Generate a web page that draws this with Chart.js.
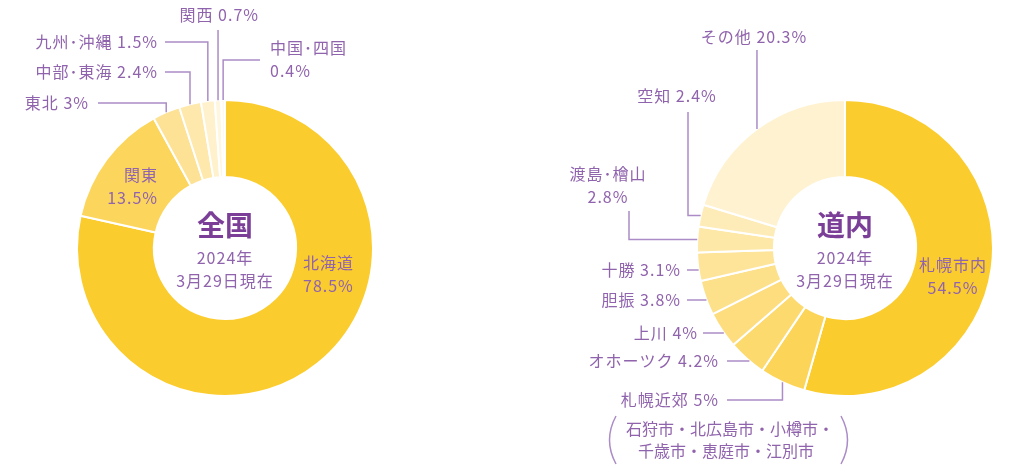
<!DOCTYPE html>
<html lang="ja">
<head>
<meta charset="utf-8">
<script src="https://cdn.jsdelivr.net/npm/chart.js@4.4.1/dist/chart.umd.min.js"></script>
<style>
  html, body { margin: 0; padding: 0; background: #fff; }
  #wrap { position: relative; width: 1024px; height: 473px; }
  canvas { position: absolute; top: 0; }
  #nationalChart { left: 0; }
  #hokkaidoChart { left: 512px; }
</style>
</head>
<body>
<div id="wrap">
  <canvas id="nationalChart" width="512" height="473"></canvas>
  <canvas id="hokkaidoChart" width="512" height="473"></canvas>
</div>
<script>
// 全国 (share of total, %)
const nationalRegions = ['北海道', '関東', '東北', '中部･東海', '九州･沖縄', '関西', '中国･四国'];
const nationalShares = [78.5, 13.5, 3, 2.4, 1.5, 0.7, 0.4];

// 道内 (share of total, %)
const hokkaidoRegions = ['札幌市内', '札幌近郊', 'オホーツク', '上川', '胆振', '十勝', '渡島･檜山', '空知', 'その他'];
const hokkaidoShares = [54.5, 5, 4.2, 4, 3.8, 3.1, 2.8, 2.4, 20.3];

const centerTitles = ['全国', '道内'];
const asOfLines = ['2024年', '3月29日現在'];
const suburbNote = ['石狩市・北広島市・小樽市・', '千歳市・恵庭市・江別市'];

const nationalColors = ['#fbcc2e', '#fcd65c', '#fde296', '#fee8ac', '#fef1cc', '#fff6e0', '#fffaee'];
const hokkaidoColors = ['#fbcc2e', '#fcd558', '#fdda6e', '#fddd7e', '#fde08a', '#fee498', '#fee8a8', '#feecb8', '#fff2d0'];

const FONT = "'Noto Sans CJK JP', 'Noto Sans', sans-serif";
const TEXT = '#9063ad';
const TITLE = '#7b3f98';
const LINE = '#ab8cc6';

const pct = v => v + '%';

// labels + leader lines, drawn from the arcs the library lays out
const calloutPlugin = {
  id: 'callouts',
  afterDatasetsDraw(chart, args, opts) {
    const ctx = chart.ctx;
    const meta = chart.getDatasetMeta(0);
    const names = chart.data.labels;
    const vals = chart.data.datasets[0].data;
    const cx = meta.data[0].x, cy = meta.data[0].y, r = meta.data[0].outerRadius;

    ctx.save();
    ctx.textBaseline = 'middle';

    opts.items.forEach(it => {
      const arc = meta.data[it.i];
      const mid = (arc.startAngle + arc.endAngle) / 2;
      const ax = cx + Math.cos(mid) * r;
      const ay = cy + Math.sin(mid) * r;

      if (it.lead) {
        const L = it.lead;
        const sx = L.x == null ? ax : L.x;
        const sy = L.y;
        ctx.strokeStyle = LINE;
        ctx.lineWidth = 1.5;
        ctx.beginPath();
        ctx.moveTo(sx, sy);
        if (L.mode === 'v') {
          ctx.lineTo(ax, sy);
          ctx.lineTo(ax, ay);
        } else if (L.mode === 'h') {
          ctx.lineTo(sx, ay);
          ctx.lineTo(ax, ay);
        } else {
          // straight across to the outer edge at this height
          const ex = cx - Math.sqrt(r * r - (sy - cy) * (sy - cy));
          ctx.lineTo(ex, sy);
        }
        ctx.stroke();
      }

      const lines = it.split ? [names[it.i], pct(vals[it.i])] : [names[it.i] + ' ' + pct(vals[it.i])];
      ctx.fillStyle = TEXT;
      ctx.font = '16px ' + FONT;
      ctx.letterSpacing = '1px';
      ctx.textAlign = it.align;
      lines.forEach((t, k) => ctx.fillText(t, it.x, it.y + k * 23));
    });

    // centre text
    ctx.textAlign = 'center';
    ctx.fillStyle = TITLE;
    ctx.letterSpacing = '0px';
    ctx.font = 'bold 28px ' + FONT;
    ctx.fillText(opts.title, cx, cy - 23);
    ctx.fillStyle = TEXT;
    ctx.font = '16px ' + FONT;
    ctx.letterSpacing = '1px';
    ctx.fillText(asOfLines[0], cx, cy + 10);
    ctx.fillText(asOfLines[1], cx, cy + 33);

    if (opts.note) {
      const n = opts.note;
      ctx.letterSpacing = '0px';
      ctx.fillText(suburbNote[0], n.x, n.y);
      ctx.fillText(suburbNote[1], n.x - 4, n.y + 22);
      ctx.strokeStyle = LINE;
      ctx.lineWidth = 1.5;
      ctx.beginPath();
      ctx.moveTo(n.left + 6, n.y - 13);
      ctx.quadraticCurveTo(n.left - 7, n.y + 11, n.left + 6, n.y + 35);
      ctx.moveTo(n.right - 6, n.y - 13);
      ctx.quadraticCurveTo(n.right + 7, n.y + 11, n.right - 6, n.y + 35);
      ctx.stroke();
    }
    ctx.restore();
  }
};

function makeDonut(id, labels, values, colors, padding, callouts) {
  return new Chart(document.getElementById(id), {
    type: 'doughnut',
    data: {
      labels: labels,
      datasets: [{
        data: values,
        backgroundColor: colors,
        borderColor: '#ffffff',
        borderWidth: 2
      }]
    },
    options: {
      responsive: false,
      animation: false,
      cutout: '48%',
      layout: { padding: padding },
      plugins: {
        legend: { display: false },
        tooltip: { enabled: false },
        callouts: callouts
      }
    },
    plugins: [calloutPlugin]
  });
}

makeDonut('nationalChart', nationalRegions, nationalShares, nationalColors,
  { left: 76, right: 138, top: 99, bottom: 76 },
  {
    title: centerTitles[0],
    items: [
      { i: 0, x: 303, y: 263, align: 'left', split: true },
      { i: 1, x: 158, y: 175, align: 'right', split: true },
      { i: 2, x: 89, y: 103, align: 'right', lead: { mode: 'v', x: 98, y: 103 } },
      { i: 3, x: 158, y: 72, align: 'right', lead: { mode: 'v', x: 165, y: 72 } },
      { i: 4, x: 158, y: 42, align: 'right', lead: { mode: 'v', x: 165, y: 42 } },
      { i: 5, x: 259, y: 15, align: 'right', lead: { mode: 'v', x: null, y: 30 } },
      { i: 6, x: 270, y: 48, align: 'left', split: true, lead: { mode: 'v', x: 260, y: 60 } }
    ]
  });

makeDonut('hokkaidoChart', hokkaidoRegions, hokkaidoShares, hokkaidoColors,
  { left: 184, right: 30, top: 99, bottom: 76 },
  {
    title: centerTitles[1],
    note: { x: 218, y: 429, left: 98, right: 335 },
    items: [
      { i: 0, x: 441, y: 265, align: 'center', split: true },
      { i: 1, x: 207, y: 400, align: 'right', lead: { mode: 'v', x: 215, y: 400 } },
      { i: 2, x: 207, y: 361, align: 'right', lead: { mode: 'e', x: 215, y: 361 } },
      { i: 3, x: 186, y: 333, align: 'right', lead: { mode: 'e', x: 191, y: 333 } },
      { i: 4, x: 169, y: 300, align: 'right', lead: { mode: 'e', x: 175, y: 300 } },
      { i: 5, x: 169, y: 270, align: 'right', lead: { mode: 'e', x: 175, y: 270 } },
      { i: 6, x: 96, y: 174, align: 'center', split: true, lead: { mode: 'h', x: 117, y: 211 } },
      { i: 7, x: 165, y: 96, align: 'center', lead: { mode: 'h', x: 176, y: 112 } },
      { i: 8, x: 242, y: 37, align: 'center', lead: { mode: 'v', x: null, y: 50 } }
    ]
  });
</script>
</body>
</html>
